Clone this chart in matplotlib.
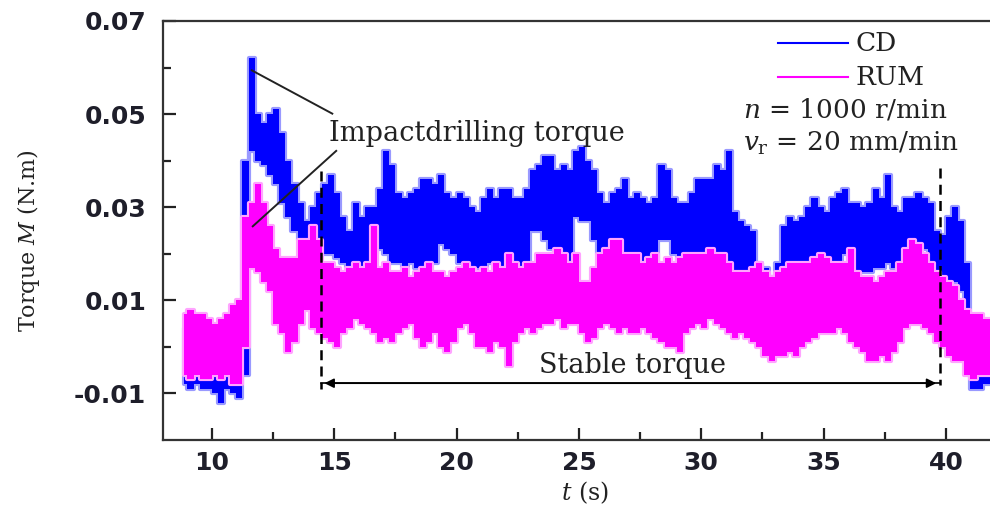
import numpy as np
import matplotlib
matplotlib.use("Agg")
import matplotlib.pyplot as plt
from matplotlib.ticker import FixedLocator, MultipleLocator, FuncFormatter

plt.rcParams['mathtext.fontset'] = 'dejavuserif'
plt.rcParams['axes.unicode_minus'] = False

# envelope of each torque trace in 0.25 s bins
# (first bin centred at 8.875 s), values in mN.m -- one row per second
cd_hi = [4, 5, 4, 4,   4, 3, 4, 5,   5, 6, 40, 62,   50, 48, 50, 51,
         46, 40, 35, 31,   27, 30, 33, 35,   37, 33, 28, 25,   31, 28, 30, 30,
         34, 42, 39, 33,   32, 33, 34, 36,   36, 35, 37, 33,   32, 33, 32, 30,
         29, 32, 34, 32,   34, 34, 32, 32,   34, 38, 39, 41,   41, 38, 39, 38,
         42, 43, 40, 38,   33, 31, 33, 34,   36, 32, 33, 32,   31, 32, 39, 38,
         32, 31, 31, 33,   36, 36, 36, 39,   38, 42, 29, 27,   26, 25, 18, 17,
         15, 18, 26, 28,   27, 28, 30, 32,   30, 29, 32, 33,   34, 31, 31, 30,
         31, 34, 32, 37,   30, 29, 32, 32,   33, 32, 31, 25,   24, 28, 30, 27,
         18, 6, 0, -2,   -2]
cd_lo = [-8, -9, -8, -9,   -9, -10, -12, -9,   -10, -11, -6, 42,   40, 39, 37, 35,
         31, 28, 25, 23,   21, 20, 21, 20,   20, 19, 18, 17,   18, 17, 17, 20,
         21, 20, 18, 18,   17, 18, 17, 17,   18, 18, 22, 21,   20, 18, 18, 17,
         17, 17, 18, 17,   17, 15, 16, 15,   16, 25, 25, 23,   21, 18, 18, 18,
         28, 27, 27, 23,   20, 17, 16, 17,   17, 16, 16, 17,   17, 18, 23, 23,
         20, 17, 16, 18,   18, 18, 20, 20,   19, 17, 16, 15,   15, 14, 5, 2,
         0, 8, 15, 16,   16, 16, 16, 16,   16, 16, 17, 17,   20, 16, 15, 16,
         16, 17, 17, 18,   17, 17, 20, 21,   22, 21, 17, 16,   12, 13, 14, 12,
         -2, -9, -9, -8,   -8]
rum_hi = [7, 8, 7, 7,   6, 5, 6, 7,   9, 10, 28, 31,   35, 31, 26, 21,
          19, 19, 19, 23,   23, 26, 23, 18,   18, 17, 16, 17,   18, 17, 18, 26,
          17, 18, 16, 16,   17, 15, 16, 17,   18, 16, 16, 15,   16, 17, 18, 17,
          16, 17, 16, 18,   17, 20, 18, 17,   18, 18, 20, 20,   20, 21, 20, 18,
          20, 14, 14, 17,   20, 21, 23, 23,   20, 20, 20, 18,   19, 20, 18, 19,
          18, 19, 20, 20,   20, 20, 21, 20,   20, 18, 16, 16,   16, 17, 18, 16,
          15, 16, 17, 18,   18, 18, 18, 19,   20, 19, 18, 18,   18, 21, 16, 15,
          15, 14, 15, 16,   16, 18, 21, 23,   22, 20, 18, 16,   15, 14, 13, 10,
          8, 7, 7, 6,   6]
rum_lo = [-6, -7, -6, -7,   -7, -6, -7, -6,   -8, -8, 0, 17,   16, 14, 12, 5,
          3, -1, 1, 5,   8, 4, 3, 2,   1, 0, 3, 4,   6, 5, 4, 3,
          1, 2, 1, 3,   4, 5, 2, 0,   1, 3, 0, -1,   1, 4, 5, 3,
          0, 0, -1, 1,   0, -4, 1, 3,   4, 3, 4, 5,   5, 6, 4, 5,
          5, 3, 1, 2,   4, 5, 4, 3,   4, 3, 3, 4,   3, 2, 1, 0,
          0, -1, 3, 4,   5, 4, 6, 5,   4, 3, 2, 3,   2, 1, 0, -2,
          -3, -2, -2, -1,   -2, 0, 1, 2,   3, 3, 3, 4,   3, 1, 0, -1,
          -3, -3, -2, -3,   -1, 1, 4, 5,   5, 4, 3, 1,   0, -2, -3, -3,
          -6, -7, -6, -6,   -6]

t = 8.875 + 0.25 * np.arange(len(cd_hi))
cd_hi, cd_lo = np.array(cd_hi) * 1e-3, np.array(cd_lo) * 1e-3
rum_hi, rum_lo = np.array(rum_hi) * 1e-3, np.array(rum_lo) * 1e-3

fig = plt.figure(figsize=(9.9, 5.12), dpi=100)
ax = fig.add_axes([0.1646, 0.1406, 0.8404, 0.8184])


def draw_trace(hi, lo, core, light):
    # light fringe first, solid band on top
    ax.fill_between(t, lo, hi, step='mid', facecolor=light, edgecolor=light, lw=3.0)
    ax.fill_between(t, lo, hi, step='mid', facecolor=core, edgecolor='none', lw=0)


draw_trace(cd_hi, cd_lo, '#0000ff', '#9999ff')
draw_trace(rum_hi, rum_lo, '#ff00ff', '#ffa3ff')

ax.set_xlim(8, 42)
ax.set_ylim(-0.02, 0.07)

# axes look
for side in ['left', 'bottom', 'top']:
    ax.spines[side].set_linewidth(1.6)
    ax.spines[side].set_color('#333333')
ax.spines['right'].set_visible(False)

ax.xaxis.set_major_locator(MultipleLocator(5))
ax.xaxis.set_minor_locator(FixedLocator([12.5, 17.5, 22.5, 27.5, 32.5, 37.5]))
ax.yaxis.set_major_locator(FixedLocator([-0.01, 0.01, 0.03, 0.05, 0.07]))
ax.yaxis.set_minor_locator(FixedLocator([0.0, 0.02, 0.04, 0.06]))
ax.yaxis.set_major_formatter(FuncFormatter(lambda v, _: f'{v:.2f}'))

ax.tick_params(which='both', direction='in', width=1.6, color='#222222',
               labelcolor='#1e1e2a', top=False, right=False)
ax.tick_params(which='major', length=9)
ax.tick_params(which='minor', length=6)
ax.tick_params(axis='y', pad=12)
ax.tick_params(axis='x', pad=8)
for lab in ax.get_xticklabels() + ax.get_yticklabels():
    lab.set_fontfamily('DejaVu Sans')
    lab.set_fontweight('bold')
    lab.set_fontsize(18)

serif = 'DejaVu Serif'
ax.set_ylabel('Torque $M$ (N.m)', fontfamily=serif, fontsize=16, color='#222222')
ax.yaxis.set_label_coords(-0.145, 0.477)
ax.set_xlabel('$t$ (s)', fontfamily=serif, fontsize=17, color='#222222')
ax.xaxis.set_label_coords(0.507, -0.095)

# legend and cutting parameters
ax.plot([0.739, 0.823], [0.947, 0.947], color='#0000ff', lw=1.5, transform=ax.transAxes)
ax.plot([0.739, 0.823], [0.866, 0.866], color='#ff00ff', lw=1.5, transform=ax.transAxes)
ax.text(0.832, 0.947, 'CD', transform=ax.transAxes, fontfamily=serif, fontsize=19,
        va='center', ha='left', color='#222222')
ax.text(0.832, 0.866, 'RUM', transform=ax.transAxes, fontfamily=serif, fontsize=19,
        va='center', ha='left', color='#222222')
ax.text(0.697, 0.788, '$n$ = 1000 r/min', transform=ax.transAxes, fontfamily=serif,
        fontsize=19, va='center', ha='left', color='#222222')
ax.text(0.697, 0.709, r'$v_\mathrm{r}$ = 20 mm/min', transform=ax.transAxes,
        fontfamily=serif, fontsize=19, va='center', ha='left', color='#222222')

# annotations
ax.text(14.8, 0.0458, 'Impactdrilling torque', fontfamily=serif, fontsize=19.5,
        va='center', ha='left', color='#222222')
ax.plot([11.63, 14.92], [0.0594, 0.0501], color='#222222', lw=1.4)
ax.plot([11.67, 15.08], [0.0259, 0.0421], color='#222222', lw=1.4)

ax.plot([14.46, 14.46], [0.0378, -0.009], color='black', lw=1.8, ls=(0, (4, 2.5)))
ax.plot([39.76, 39.76], [0.0385, -0.0082], color='black', lw=1.8, ls=(0, (4, 2.5)))
ax.plot([14.46, 39.76], [-0.0078, -0.0078], color='black', lw=1.2)
ax.annotate('', xy=(14.6, -0.0078), xytext=(39.6, -0.0078),
            arrowprops=dict(arrowstyle='<|-|>', color='black', lw=1.2,
                            mutation_scale=14, shrinkA=0, shrinkB=0))
ax.text(27.2, -0.0039, 'Stable torque', fontfamily=serif, fontsize=19.5,
        va='center', ha='center', color='#222222')

fig.savefig('out.png', dpi=100)
